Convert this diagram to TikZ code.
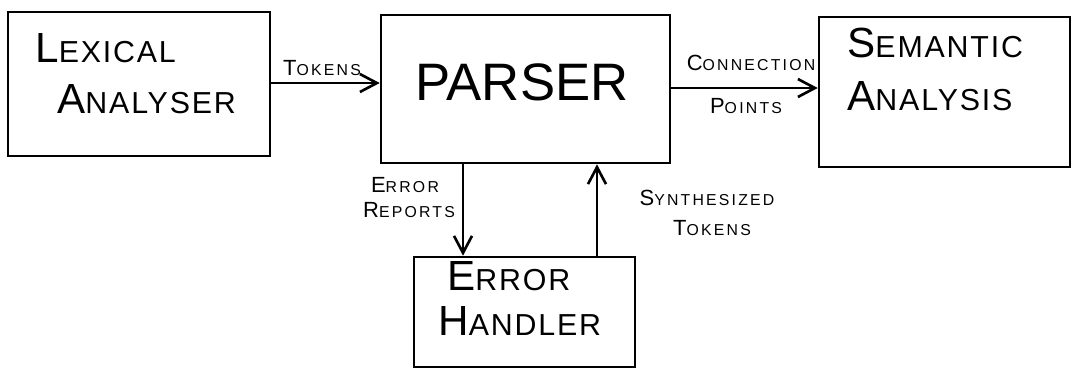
\documentclass[tikz,border=0pt]{standalone}
\usepackage{fontspec}
\setmainfont{Liberation Sans}
\newfontfamily\boxfont[LetterSpace=6]{Liberation Sans}
\newfontfamily\flowfont[LetterSpace=14]{Liberation Sans}
\usepackage{graphicx}
\usetikzlibrary{arrows.meta}

% smaller capitals after the first letter
\newcommand{\lowcap}[1]{\scalebox{0.72}{#1}}

\tikzset{
	box/.style={draw, line width=1.5pt, inner sep=0pt},
	boxtext/.style={inner sep=0pt, font=\boxfont\fontsize{24}{28}\selectfont},
	bigtext/.style={inner sep=0pt, font=\fontsize{30}{34}\selectfont},
	flowtext/.style={inner sep=0pt, font=\flowfont\fontsize{12.5}{14}\selectfont},
	flow/.style={line width=1.5pt, -{Straight Barb[length=0.34cm,width=0.36cm,line width=1.5pt]}}
}

\begin{document}
\begin{tikzpicture}[x=0.02cm,y=-0.02cm]

		\useasboundingbox (0,0) rectangle (1071,369);

		% boxes
		\node [box, minimum width=5.24cm, minimum height=2.88cm] (lex) at (139,84) {};
		\node [box, minimum width=5.78cm, minimum height=2.96cm] (parser) at (525.5,89) {};
		\node [box, minimum width=5.02cm, minimum height=3.0cm] (sem) at (944.5,92) {};
		\node [box, minimum width=4.42cm, minimum height=2.2cm] (err) at (524.5,312) {};

		% box texts
		\node [boxtext, anchor=base west] (lexA) at (35,62) {L\lowcap{EXICAL}};
		\node [boxtext, anchor=base west] (lexB) at (57,113) {A\lowcap{NALYSER}};
		\node [bigtext, anchor=base] (parserA) at (522,100) {PARSER};
		\node [boxtext, anchor=base west] (semA) at (847,57) {S\lowcap{EMANTIC}};
		\node [boxtext, anchor=base west] (semB) at (847,110) {A\lowcap{NALYSIS}};
		\node [boxtext, anchor=base west] (errA) at (447,290) {E\lowcap{RROR}};
		\node [boxtext, anchor=base west] (errB) at (438,335) {H\lowcap{ANDLER}};

		\coordinate (rep) at (463,0);
		\coordinate (syn) at (597,0);

		% connectors
		\draw [flow] (lex.east |- 0,83) -- (parser.west |- 0,83);
		\draw [flow] (parser.east |- 0,88) -- (sem.west |- 0,88);
		\draw [flow] (parser.south -| rep) -- (err.north -| rep);
		\draw [flow] (err.north -| syn) -- (parser.south -| syn);

		% connector labels
		\node [flowtext, anchor=base] (tok) at (322,75) {T\lowcap{OKENS}};
		\node [flowtext, anchor=base] (conA) at (751,70) {C\lowcap{ONNECTION}};
		\node [flowtext, anchor=base] (conB) at (746,113) {P\lowcap{OINTS}};
		\node [flowtext, anchor=base] (repA) at (405,192) {E\lowcap{RROR}};
		\node [flowtext, anchor=base] (repB) at (409,217) {R\lowcap{EPORTS}};
		\node [flowtext, anchor=base] (synA) at (707,205) {S\lowcap{YNTHESIZED}};
		\node [flowtext, anchor=base] (synB) at (712,235) {T\lowcap{OKENS}};

\end{tikzpicture}
\end{document}
